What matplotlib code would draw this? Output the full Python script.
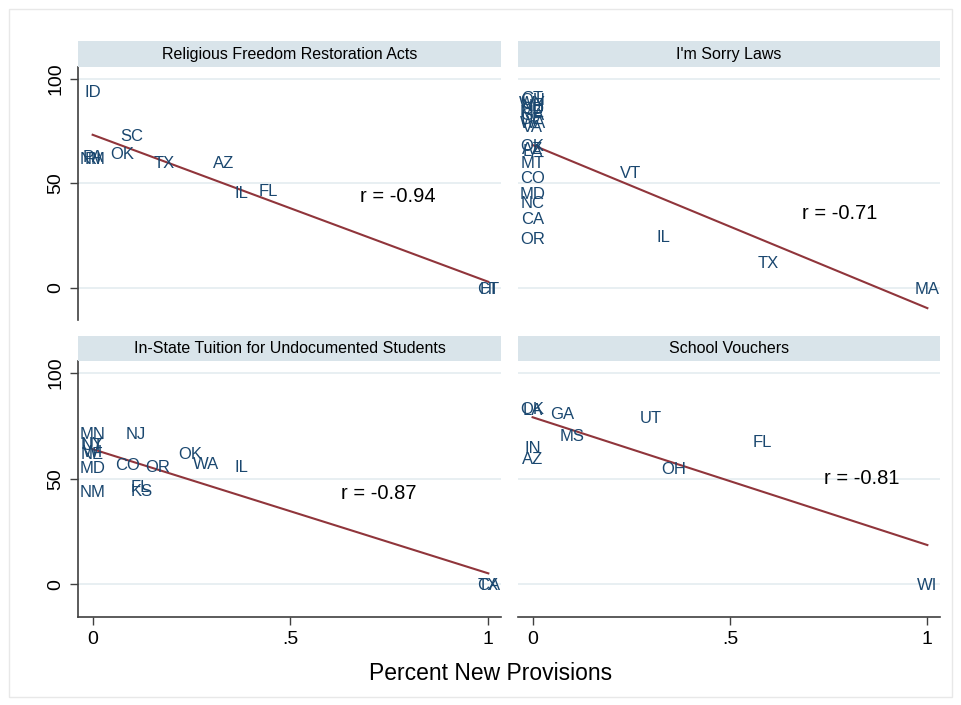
import numpy as np
import matplotlib
matplotlib.use("Agg")
import matplotlib.pyplot as plt
from matplotlib.patches import Rectangle

plt.rcParams['font.family'] = ['Liberation Sans', 'DejaVu Sans']

# --- data (x = share of new provisions, y = score) ---
rfra_states = ['ID', 'PA', 'RI', 'NM', 'SC', 'OK', 'TX', 'AZ', 'IL', 'FL', 'CT', 'HI']
rfra_x = [0, 0, 0, 0, 0.099, 0.076, 0.18, 0.332, 0.375, 0.443, 1, 1]
rfra_y = [94.3, 63, 62, 62, 73.3, 64.3, 60, 60, 46, 47, 0, 0]

sorry_states = ['CT', 'OH', 'WY', 'NH', 'SD', 'ME', 'GA', 'DE', 'WA', 'VA',
                'OK', 'AZ', 'LA', 'MT', 'CO', 'MD', 'NC', 'CA', 'OR',
                'VT', 'IL', 'TX', 'MA']
sorry_x = [0] * 19 + [0.248, 0.332, 0.597, 1]
sorry_y = [91.5, 90.5, 89, 87.5, 86, 84.5, 83, 81.5, 79.5, 77.5,
           68.5, 67, 66, 60, 53, 45.5, 41, 33.5, 24,
           55.2, 24.8, 12.4, 0]

tuition_states = ['MN', 'NY', 'UT', 'NE', 'WI', 'MD', 'NM',
                  'NJ', 'CO', 'OR', 'OK', 'WA', 'IL', 'KS', 'FL', 'CA', 'TX']
tuition_x = [0, 0, 0, 0, 0, 0, 0,
             0.109, 0.089, 0.165, 0.246, 0.286, 0.377, 0.124, 0.12, 1, 1]
tuition_y = [71.5, 67, 66.5, 62, 63, 55.5, 44,
             71.4, 57, 56, 62, 57.6, 56, 44.5, 46.5, 0, 0]

voucher_states = ['OK', 'LA', 'IN', 'AZ', 'GA', 'MS', 'UT', 'OH', 'FL', 'WI']
voucher_x = [0, 0, 0, 0, 0.076, 0.101, 0.299, 0.357, 0.582, 1]
voucher_y = [83.5, 83, 65, 60, 81, 70.5, 79, 55, 67.6, 0]

titles = ['Religious Freedom Restoration Acts', "I'm Sorry Laws",
          'In-State Tuition for Undocumented Students', 'School Vouchers']
r_labels = ['r = -0.94', 'r = -0.71', 'r = -0.87', 'r = -0.81']
r_pos = [(0.772, 44.8), (0.778, 36.7), (0.724, 43.8), (0.833, 51)]

W, H = 961, 705
fig = plt.figure(figsize=(W / 100, H / 100), dpi=100)

navy = '#1a476f'
maroon = '#90353b'
strip_col = '#d9e4ea'
grid_col = '#e6eef1'

# outer frame like the Stata graph region
fig.patches.append(Rectangle((9 / W, 1 - 697 / H), 943 / W, 688 / H,
                             transform=fig.transFigure, fill=False,
                             edgecolor='#e8e8e8', lw=1))


def rect(x0, y0, x1, y1):
    return [x0 / W, 1 - y1 / H, (x1 - x0) / W, (y1 - y0) / H]


panels = [(rfra_states, rfra_x, rfra_y),
          (sorry_states, sorry_x, sorry_y),
          (tuition_states, tuition_x, tuition_y),
          (voucher_states, voucher_x, voucher_y)]
cols = [(78, 501), (518, 940)]
rows = [(42, 67, 320), (336, 361, 617)]

for i, (states, xs, ys) in enumerate(panels):
    r, c = divmod(i, 2)
    x0, x1 = cols[c]
    s0, y0, y1 = rows[r]

    # strip title
    fig.patches.append(Rectangle((x0 / W, 1 - y0 / H + 0.5 / H), (x1 - x0) / W,
                                 (y0 - s0) / H, transform=fig.transFigure,
                                 color=strip_col, lw=0))
    fig.text((x0 + x1) / 2 / W, 1 - (s0 + y0) / 2 / H, titles[i],
             ha='center', va='center', fontsize=11.5, color='black')

    ax = fig.add_axes(rect(x0, y0, x1, y1))
    ax.set_xlim(-0.037, 1.032)
    ax.set_ylim(-15.5, 105.7)
    for yy in [0, 50, 100]:
        ax.axhline(yy, color=grid_col, lw=1.3, zorder=0)

    xs = np.array(xs)
    ys = np.array(ys)
    for s, xv, yv in zip(states, xs, ys):
        ax.text(xv, yv, s, color=navy, fontsize=12, ha='center',
                va='center_baseline')

    slope, inter = np.polyfit(xs, ys, 1)
    lx = np.array([xs.min(), xs.max()])
    ax.plot(lx, inter + slope * lx, color=maroon, lw=1.5)

    ax.text(r_pos[i][0], r_pos[i][1], r_labels[i], fontsize=14.5,
            ha='center', va='center_baseline', color='black')

    for sp in ax.spines.values():
        sp.set_visible(False)
    ax.set_facecolor('none')

    if c == 0:
        ax.spines['left'].set_visible(True)
        ax.spines['left'].set_color('#404040')
        ax.spines['left'].set_linewidth(1.2)
        ax.set_yticks([0, 50, 100])
        ax.set_yticklabels(['0', '50', '100'], rotation=90, va='center',
                           fontsize=14)
        ax.tick_params(axis='y', length=6, width=1, color='#404040', pad=4)
    else:
        ax.set_yticks([])

    if r == 1:
        ax.spines['bottom'].set_visible(True)
        ax.spines['bottom'].set_color('#404040')
        ax.spines['bottom'].set_linewidth(1.2)
        ax.set_xticks([0, 0.5, 1])
        ax.set_xticklabels(['0', '.5', '1'], fontsize=14)
        ax.tick_params(axis='x', length=6, width=1, color='#404040', pad=4)
    else:
        ax.set_xticks([])

fig.text(491 / W, 1 - 674 / H, 'Percent New Provisions', ha='center',
         va='center', fontsize=16.5)

fig.savefig('out.png', dpi=100)
